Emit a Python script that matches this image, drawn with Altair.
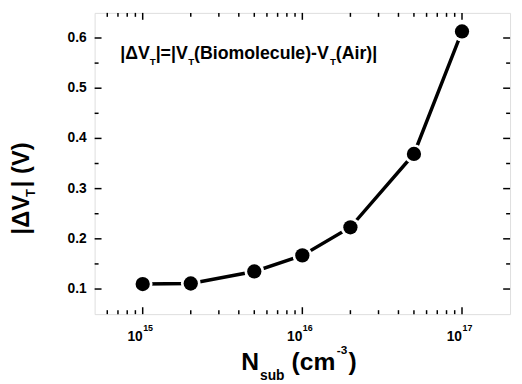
import altair as alt
import pandas as pd

# data
n_sub = [1e15, 2e15, 5e15, 1e16, 2e16, 5e16, 1e17]
dvt = [0.110, 0.111, 0.135, 0.167, 0.223, 0.369, 0.613]

x_major = [1e15, 1e16, 1e17]
x_major_exp = ["15", "16", "17"]
x_minor = [6e14, 7e14, 8e14, 9e14,
           2e15, 3e15, 4e15, 5e15, 6e15, 7e15, 8e15, 9e15,
           2e16, 3e16, 4e16, 5e16, 6e16, 7e16, 8e16, 9e16]
y_major = [0.1, 0.2, 0.3, 0.4, 0.5, 0.6]
y_minor = [0.15, 0.25, 0.35, 0.45, 0.55]

W, H = 422, 306
FONT = "Liberation Sans"
XDOM = [5e14, 2e17]
YDOM = [0.05, 0.65]

df = pd.DataFrame({"n": n_sub, "v": dvt})
xs = alt.Scale(type="log", domain=XDOM)
ys = alt.Scale(domain=YDOM)

X = alt.X("n:Q", scale=xs, axis=None)
Y = alt.Y("v:Q", scale=ys, axis=None)

line = alt.Chart(df).mark_line(color="black", strokeWidth=3.5).encode(x=X, y=Y)
halo = alt.Chart(df).mark_point(filled=True, color="white", size=400, opacity=1, shape="circle").encode(x=X, y=Y)
pts = alt.Chart(df).mark_point(filled=True, color="black", size=210, opacity=1, shape="circle").encode(x=X, y=Y)

# inward ticks
xmaj = pd.DataFrame({"t": x_major, "e": x_major_exp})
xmin = pd.DataFrame({"t": x_minor})
ymaj = pd.DataFrame({"t": y_major})
ymin = pd.DataFrame({"t": y_minor})

def xt(d, y0, y1):
    return alt.Chart(d).mark_rule(color="black", strokeWidth=1.5).encode(
        x=alt.X("t:Q", scale=xs, axis=None), y=alt.value(y0), y2=alt.value(y1))

def yt(d, x0, x1):
    return alt.Chart(d).mark_rule(color="black", strokeWidth=1.5).encode(
        y=alt.Y("t:Q", scale=ys, axis=None), x=alt.value(x0), x2=alt.value(x1))

ticks = [xt(xmaj, H, H - 7), xt(xmaj, 0, 7), xt(xmin, H, H - 4), xt(xmin, 0, 4),
         yt(ymaj, 0, 7), yt(ymaj, W, W - 7), yt(ymin, 0, 4), yt(ymin, W, W - 4)]

# y tick labels
ylab = alt.Chart(ymaj).mark_text(font=FONT, fontSize=14, fontWeight="bold", align="right",
                                 baseline="middle", color="black").encode(
    y=alt.Y("t:Q", scale=ys, axis=None), x=alt.value(-8), text=alt.Text("t:Q", format=".1f"))

# x tick labels 10^n
lab10 = alt.Chart(xmaj).mark_text(text="10", font=FONT, fontSize=14, fontWeight="bold",
                                  align="right", baseline="alphabetic", color="black").encode(
    x=alt.X("t:Q", scale=xs, axis=None), y=alt.value(H + 27))
labexp = alt.Chart(xmaj).mark_text(font=FONT, fontSize=9, fontWeight="bold",
                                   align="left", baseline="alphabetic", color="black", dx=0.5).encode(
    x=alt.X("t:Q", scale=xs, axis=None), y=alt.value(H + 17), text="e:N")

def txt(s, x, y, size, angle=0):
    kw = dict(text=s, font=FONT, fontSize=size, fontWeight="bold", align="left",
              baseline="alphabetic", color="black")
    if angle:
        kw["angle"] = angle
    return alt.Chart(pd.DataFrame({"a": [0]})).mark_text(**kw).encode(
        x=alt.value(x), y=alt.value(y))

# annotation  |ΔV_T|=|V_T(Biomolecule)-V_T(Air)|
ann = [
    txt("|ΔV", 26, 47, 18), txt("T", 56, 53, 10),
    txt("|=|V", 62, 47, 18), txt("T", 95, 53, 10),
    txt("(Biomolecule)-V", 101, 47, 18), txt("T", 239, 53, 10),
    txt("(Air)|", 245, 47, 18),
]

# x title  N_sub (cm^-3)
xtitle = [
    txt("N", 149, 363, 25), txt("sub", 168, 373, 14),
    txt("(cm", 200, 363, 25), txt("-3", 246, 346, 12), txt(")", 258, 363, 25),
]

# y title  |ΔV_T| (V)
ytitle = [
    txt("|ΔV", -67, 225, 24, 270), txt("T", -61, 187, 13, 270),
    txt("| (V)", -67, 177, 24, 270),
]

chart = alt.layer(line, halo, pts, *ticks, ylab, lab10, labexp, *ann, *xtitle, *ytitle).properties(
    width=W, height=H,
    autosize=alt.AutoSizeParams(type="none"),
    padding={"left": 88, "top": 2, "right": 4, "bottom": 68},
).configure_view(stroke="black", strokeWidth=2).configure(background="white")

chart.save("out.html", embed_options={"renderer": "svg", "actions": False})
